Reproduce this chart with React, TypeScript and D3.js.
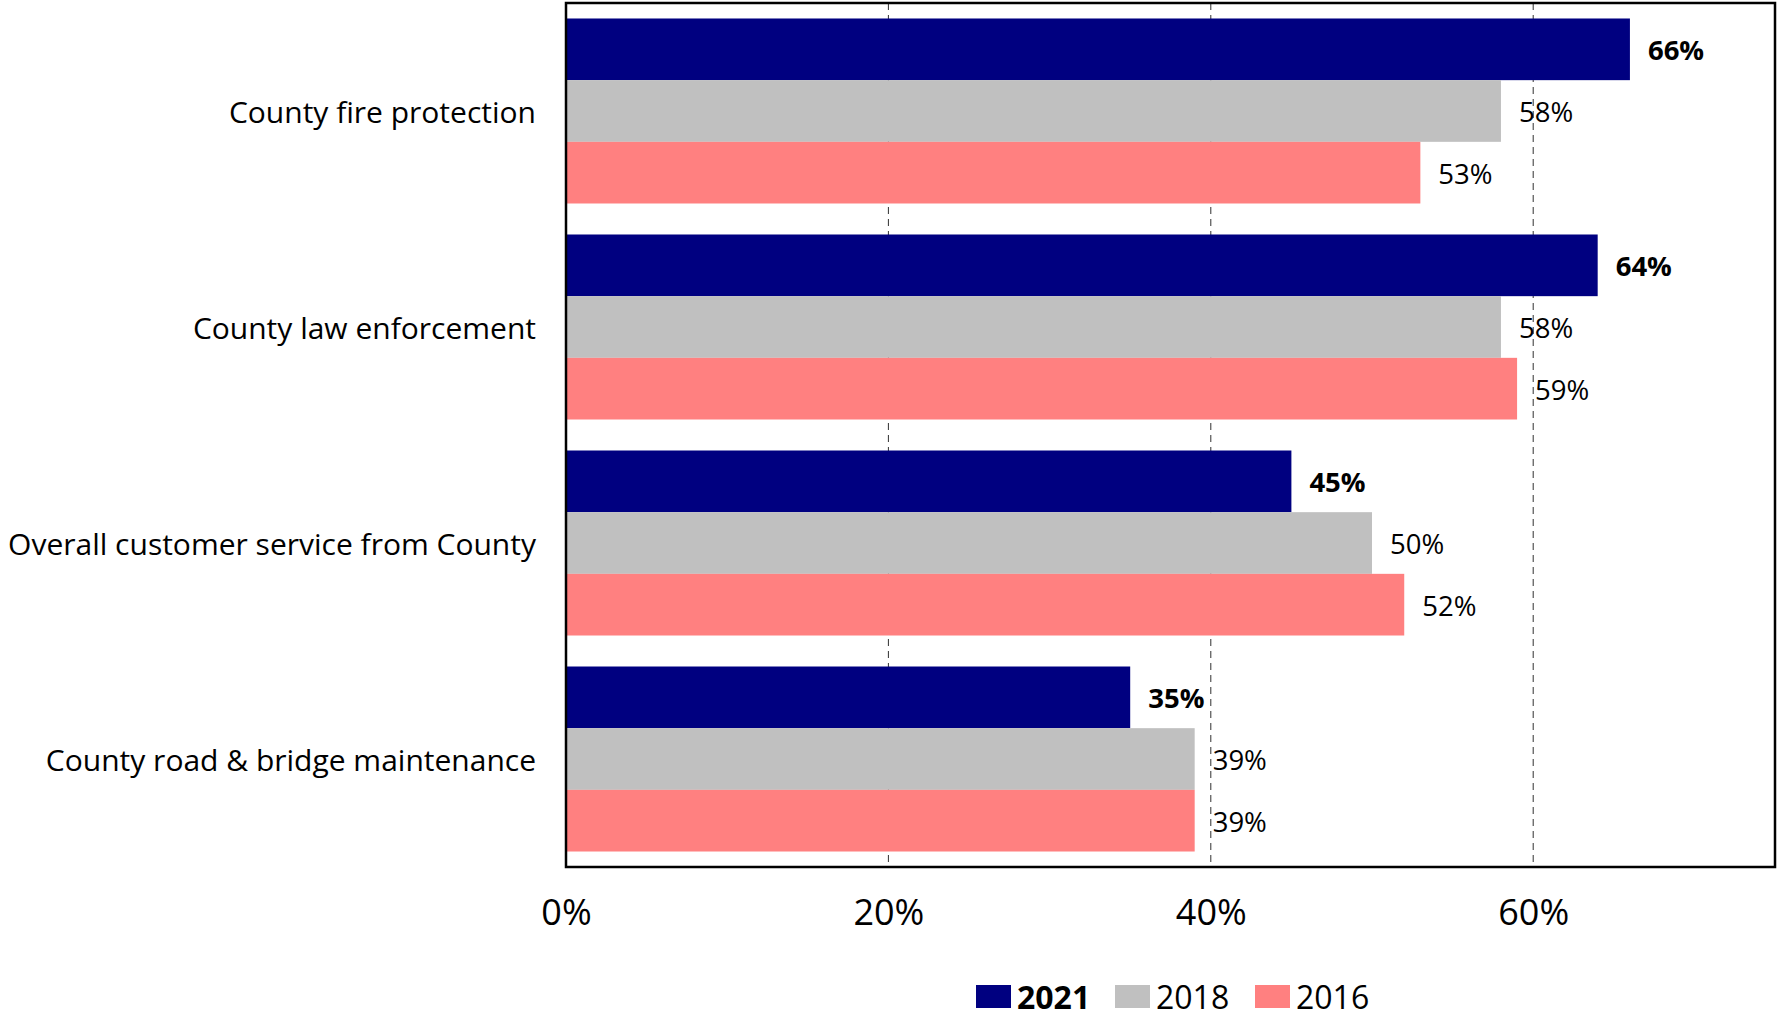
import React, { useEffect, useRef } from "react";
import { select, scaleLinear, scaleBand, axisBottom, format } from "d3";

const categories = [
  "County fire protection",
  "County law enforcement",
  "Overall customer service from County",
  "County road & bridge maintenance",
];
const years = ["2021", "2018", "2016"];
const values2021 = [0.66, 0.64, 0.45, 0.35];
const values2018 = [0.58, 0.58, 0.5, 0.39];
const values2016 = [0.53, 0.59, 0.52, 0.39];
const tickValues = [0, 0.2, 0.4, 0.6];
const colors = ["#000080", "#c0c0c0", "#ff8080"];

const WIDTH = 1780;
const HEIGHT = 1018;
const FONT = "'Open Sans', 'DejaVu Sans', sans-serif";

const App = () => {
  const svgRef = useRef<SVGSVGElement | null>(null);

  useEffect(() => {
    const svg = select(svgRef.current);
    svg.selectAll("*").remove();

    const left = 566;
    const right = 1775;
    const top = 3;
    const bottom = 867;

    const x = scaleLinear().domain([0, 0.75]).range([left, right]);
    const y = scaleBand()
      .domain(categories)
      .range([top, bottom])
      .paddingInner(0.1435)
      .paddingOuter(0.0717);
    const sub = scaleBand().domain(years).range([0, y.bandwidth()]);

    const series = [values2021, values2018, values2016];

    // dashed gridlines behind the bars
    svg
      .append("g")
      .selectAll("line")
      .data(tickValues.slice(1))
      .enter()
      .append("line")
      .attr("x1", (d) => x(d))
      .attr("x2", (d) => x(d))
      .attr("y1", top)
      .attr("y2", bottom)
      .attr("stroke", "#303030")
      .attr("stroke-width", 1)
      .attr("stroke-dasharray", "7,5");

    // bars + value labels
    const groups = svg
      .append("g")
      .selectAll("g")
      .data(categories)
      .enter()
      .append("g")
      .attr("transform", (d) => `translate(0, ${y(d)})`);

    years.forEach((yr, si) => {
      groups
        .append("rect")
        .attr("x", x(0))
        .attr("y", sub(yr)!)
        .attr("width", (_, i) => x(series[si][i]) - x(0))
        .attr("height", sub.bandwidth())
        .attr("fill", colors[si]);
      groups
        .append("text")
        .attr("x", (_, i) => x(series[si][i]) + 18)
        .attr("y", sub(yr)! + sub.bandwidth() / 2)
        .attr("dy", "0.4em")
        .attr("font-family", FONT)
        .attr("font-size", 27.5)
        .attr("font-weight", si === 0 ? "bold" : "normal")
        .attr("fill", "#000")
        .text((_, i) => format(".0%")(series[si][i]));
    });

    // category labels
    svg
      .append("g")
      .selectAll("text")
      .data(categories)
      .enter()
      .append("text")
      .attr("x", left - 30)
      .attr("y", (d) => y(d)! + y.bandwidth() / 2)
      .attr("dy", "0.4em")
      .attr("text-anchor", "end")
      .attr("font-family", FONT)
      .attr("font-size", 30)
      .attr("fill", "#000")
      .text((d) => d);

    // x axis labels
    const xAxis = axisBottom(x)
      .tickValues(tickValues)
      .tickSize(0)
      .tickPadding(0)
      .tickFormat((d) => format(".0%")(d as number));
    const axisG = svg
      .append("g")
      .attr("transform", `translate(0, ${bottom})`)
      .call(xAxis);
    axisG.select(".domain").remove();
    axisG
      .selectAll("text")
      .attr("font-family", FONT)
      .attr("font-size", 36)
      .attr("fill", "#000")
      .attr("y", 45)
      .attr("dy", "0.35em");

    // plot frame
    svg
      .append("rect")
      .attr("x", left)
      .attr("y", top)
      .attr("width", right - left)
      .attr("height", bottom - top)
      .attr("fill", "none")
      .attr("stroke", "#000")
      .attr("stroke-width", 2.5);

    // legend
    const legendX = [976, 1115, 1255];
    const legend = svg
      .append("g")
      .selectAll("g")
      .data(years)
      .enter()
      .append("g")
      .attr("transform", (_, i) => `translate(${legendX[i]}, 985)`);
    legend
      .append("rect")
      .attr("width", 35)
      .attr("height", 23)
      .attr("fill", (_, i) => colors[i]);
    legend
      .append("text")
      .attr("x", 41)
      .attr("y", 12)
      .attr("dy", "0.38em")
      .attr("font-family", FONT)
      .attr("font-size", 32)
      .attr("font-weight", (_, i) => (i === 0 ? "bold" : "normal"))
      .attr("fill", "#000")
      .text((d) => d);
  }, []);

  return (
    <svg
      ref={svgRef}
      width={WIDTH}
      height={HEIGHT}
      style={{ position: "absolute", left: 0, top: 0, background: "#fff" }}
    ></svg>
  );
};

export default App;
